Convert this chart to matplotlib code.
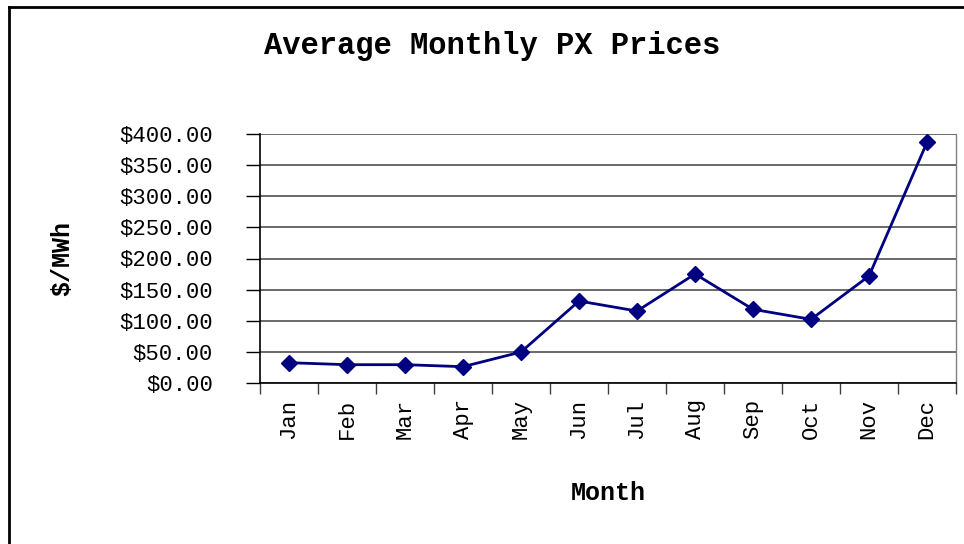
import matplotlib
matplotlib.use("Agg")
import matplotlib.pyplot as plt
from matplotlib.lines import Line2D
from matplotlib.ticker import FuncFormatter, MultipleLocator

months = ["Jan", "Feb", "Mar", "Apr", "May", "Jun", "Jul", "Aug", "Sep", "Oct", "Nov", "Dec"]
prices = [32.2, 29.0, 29.0, 25.8, 49.4, 131.5, 115.4, 175.0, 118.2, 102.0, 171.8, 387.0]
title = "Average Monthly PX Prices"
xlabel = "Month"
ylabel = "$/MWh"

W, H = 964, 544
fig = plt.figure(figsize=(W / 100, H / 100), dpi=100)
fig.patch.set_facecolor("white")

font = "Liberation Mono"

ax = fig.add_axes([260 / W, 1 - 382.7 / H, (956 - 260) / W, (382.7 - 134.3) / H])
x = list(range(len(months)))
ax.plot(x, prices, color="#000080", lw=2, marker="D", markersize=8,
        markerfacecolor="#000080", markeredgecolor="#000080", zorder=3, clip_on=False)

ax.set_xlim(-0.5, len(months) - 0.5)
ax.set_ylim(0, 400)
ax.yaxis.set_major_locator(MultipleLocator(50))
ax.yaxis.set_major_formatter(FuncFormatter(lambda v, p: f"${v:.2f}"))
ax.grid(axis="y", color="#505050", lw=1.2)
ax.set_axisbelow(True)

ax.set_xticks(x)
ax.set_xticklabels(months, rotation=90, fontfamily=font, fontsize=16, va="top")
ax.set_xticks([i - 0.5 for i in range(len(months) + 1)], minor=True)
ax.tick_params(axis="x", which="major", length=0, pad=12)
ax.tick_params(axis="x", which="minor", length=8, width=1, color="#404040", direction="out")
ax.tick_params(axis="y", which="major", length=10, width=1, direction="out", pad=24)
for lab in ax.get_yticklabels():
    lab.set_fontfamily(font)
    lab.set_fontsize(16)

ax.spines["top"].set_visible(False)
ax.spines["right"].set_color("#808080")
ax.spines["right"].set_linewidth(1)
ax.spines["left"].set_color("black")
ax.spines["left"].set_linewidth(1.2)
ax.spines["bottom"].set_color("black")
ax.spines["bottom"].set_linewidth(1.2)

fig.text(492 / W, 1 - 46 / H, title, ha="center", va="center",
         fontfamily=font, fontweight="bold", fontsize=22)
fig.text(608 / W, 1 - 493 / H, xlabel, ha="center", va="center",
         fontfamily=font, fontweight="bold", fontsize=18)
fig.text(62 / W, 1 - 258 / H, ylabel, ha="center", va="center", rotation=90,
         fontfamily=font, fontweight="bold", fontsize=18)

# outer chart frame
fig.add_artist(Line2D([9 / W, 9 / W], [0, 1 - 7 / H], transform=fig.transFigure,
                      color="black", lw=2))
fig.add_artist(Line2D([9 / W, 1], [1 - 7 / H, 1 - 7 / H], transform=fig.transFigure,
                      color="black", lw=2))

fig.savefig("out.png", dpi=100, facecolor="white")
